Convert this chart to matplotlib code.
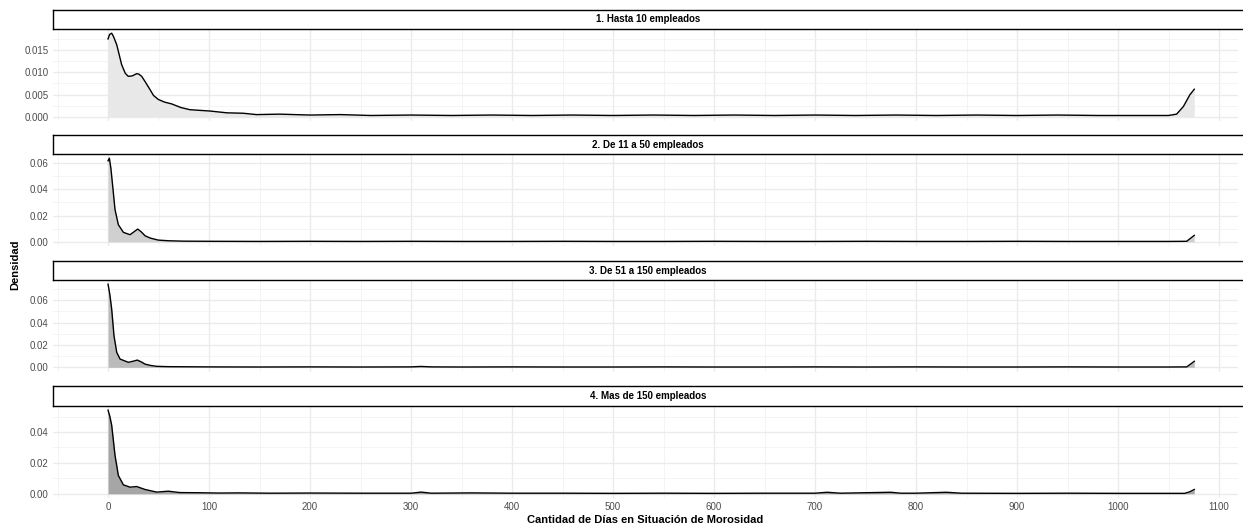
import matplotlib
matplotlib.use('Agg')
import matplotlib.pyplot as plt
from matplotlib.ticker import MultipleLocator, FormatStrFormatter

plt.rcParams['font.family'] = ['Liberation Sans', 'DejaVu Sans']

# data
grupos = ['1. Hasta 10 empleados', '2. De 11 a 50 empleados',
          '3. De 51 a 150 empleados', '4. Mas de 150 empleados']

dias_1 = [0, 1.5, 3.6, 5.5, 8.6, 13.5, 17, 20, 24, 28.4, 30.5, 33.3, 37, 41.6, 45, 49.8, 56,
          63, 72, 81, 101, 117.5, 134, 147, 170,
          200, 230, 260, 300, 340, 380, 420, 460, 500, 540, 580, 620, 660, 700, 740, 780,
          820, 860, 900, 940, 980, 1020, 1050, 1058, 1064.7, 1071, 1075.5]
dens_1 = [0.0175, 0.0185, 0.0188, 0.0180, 0.0162, 0.0117, 0.0098, 0.0091, 0.0092, 0.0097,
          0.0096, 0.0091, 0.0078, 0.0061, 0.0048, 0.0039, 0.0033, 0.0029, 0.0021,
          0.0016, 0.0013, 0.0009, 0.0008, 0.0005, 0.0006, 0.0004, 0.0005, 0.0003, 0.0004,
          0.0003, 0.0004, 0.0003, 0.0004, 0.0003, 0.0004, 0.0003, 0.0004, 0.0003, 0.0004,
          0.0003, 0.0004, 0.0003, 0.0004, 0.0003, 0.0004, 0.0003, 0.0003, 0.0003, 0.0006,
          0.0023, 0.0049, 0.0062]

dias_2 = [0, 1.3, 2.8, 4.6, 6.9, 10.2, 15.2, 21.8, 25.5, 29.4, 33, 36.6, 42, 49.8, 60, 74.6,
          100, 150, 200, 250, 300, 350, 400, 450, 500, 550, 600, 650, 700, 750, 800, 850, 900,
          950, 1000, 1050, 1068, 1072, 1075.5]
dens_2 = [0.0616, 0.0636, 0.0560, 0.0424, 0.0245, 0.0130, 0.0072, 0.0054, 0.0075, 0.0097,
          0.0075, 0.0046, 0.0028, 0.0013, 0.0008, 0.0005, 0.0004, 0.0003, 0.0004, 0.0003,
          0.0004, 0.0003, 0.0003, 0.0004, 0.0003, 0.0003, 0.0004, 0.0003, 0.0003, 0.0004,
          0.0003, 0.0003, 0.0004, 0.0003, 0.0003, 0.0003, 0.0004, 0.0028, 0.0049]

dias_3 = [0, 1.8, 3.6, 5.9, 8.6, 11.9, 20.1, 25, 29, 33, 36.6, 42, 48.2, 60, 80, 100, 150,
          200, 250, 300, 310, 320, 350, 400, 450, 500, 550, 600, 650, 700, 750, 800, 850, 900,
          950, 1000, 1050, 1068, 1072, 1075.5]
dens_3 = [0.0744, 0.0650, 0.0521, 0.0282, 0.0134, 0.0074, 0.0045, 0.0055, 0.0065, 0.0048,
          0.0029, 0.0017, 0.0009, 0.0006, 0.0005, 0.0004, 0.0003, 0.0004, 0.0003, 0.0004,
          0.0008, 0.0004, 0.0003, 0.0004, 0.0003, 0.0003, 0.0004, 0.0003, 0.0003, 0.0004,
          0.0003, 0.0004, 0.0003, 0.0003, 0.0004, 0.0003, 0.0003, 0.0004, 0.0030, 0.0054]

dias_4 = [0, 1.8, 3.6, 6.9, 10.2, 15.2, 21.8, 28.4, 36.6, 48.2, 59.7, 71, 90, 110, 130, 160,
          200, 250, 300, 310, 320, 360, 400, 450, 500, 550, 600, 650, 700, 712, 725, 775, 785,
          800, 830, 845, 900, 950, 1000, 1050, 1066, 1071, 1075.5]
dens_4 = [0.0541, 0.0500, 0.0444, 0.0249, 0.0119, 0.0058, 0.0043, 0.0047, 0.0028, 0.0011,
          0.0017, 0.0008, 0.0007, 0.0005, 0.0006, 0.0004, 0.0005, 0.0004, 0.0004, 0.0011,
          0.0004, 0.0006, 0.0004, 0.0004, 0.0003, 0.0004, 0.0003, 0.0004, 0.0004, 0.0010,
          0.0004, 0.0010, 0.0004, 0.0004, 0.0010, 0.0004, 0.0003, 0.0004, 0.0003, 0.0003,
          0.0003, 0.0013, 0.0028]

dias = [dias_1, dias_2, dias_3, dias_4]
dens = [dens_1, dens_2, dens_3, dens_4]
rellenos = ['#E8E8E8', '#D0D0D0', '#BBBBBB', '#A6A6A6']

W, H = 1243, 524
fig = plt.figure(figsize=(W / 100, H / 100), dpi=100)

# pixel layout (top of strip, top of panel, bottom of panel)
filas = [(10, 29, 121), (135, 154, 246), (261, 280, 371.5), (386, 406, 498)]
x0, x1 = 53, 1238

for i, (st, pt, pb) in enumerate(filas):
    ax = fig.add_axes([x0 / W, 1 - pb / H, (x1 - x0) / W, (pb - pt) / H])
    ax.fill_between(dias[i], dens[i], 0, color=rellenos[i], lw=0)
    ax.plot(dias[i], dens[i], color='black', lw=1.0)
    m = max(dens[i])
    ax.set_ylim(-0.05 * m, 1.05 * m)
    ax.set_xlim(-54.5, 1118.8)
    ax.xaxis.set_major_locator(MultipleLocator(100))
    ax.xaxis.set_minor_locator(MultipleLocator(50))
    if i == 0:
        ax.yaxis.set_major_locator(MultipleLocator(0.005))
        ax.yaxis.set_minor_locator(MultipleLocator(0.0025))
        ax.yaxis.set_major_formatter(FormatStrFormatter('%.3f'))
    else:
        ax.yaxis.set_major_locator(MultipleLocator(0.02))
        ax.yaxis.set_minor_locator(MultipleLocator(0.01))
        ax.yaxis.set_major_formatter(FormatStrFormatter('%.2f'))
    ax.grid(which='major', color='#EBEBEB', lw=1.0)
    ax.grid(which='minor', color='#F2F2F2', lw=0.6)
    ax.set_axisbelow(True)
    for s in ax.spines.values():
        s.set_visible(False)
    ax.tick_params(which='both', length=0, labelsize=7, colors='#4D4D4D', pad=3)
    if i < 3:
        ax.tick_params(axis='x', labelbottom=False)
    else:
        ax.set_xlabel('Cantidad de Días en Situación de Morosidad', fontsize=8,
                      fontweight='bold', labelpad=2)

    # facet strip
    sax = fig.add_axes([x0 / W, 1 - pt / H, (W - x0 + 5) / W, (pt - st) / H])
    sax.set_xticks([])
    sax.set_yticks([])
    sax.set_facecolor('white')
    for s in sax.spines.values():
        s.set_color('black')
        s.set_linewidth(1.0)
    sax.text(((W + x0) / 2 - x0) / (W - x0 + 5), 0.5, grupos[i], ha='center', va='center',
             fontsize=7, fontweight='bold', transform=sax.transAxes)

fig.text(15 / W, 1 - 265 / H, 'Densidad', rotation=90, ha='center', va='center',
         fontsize=8, fontweight='bold')

fig.savefig('out.png', dpi=100)
